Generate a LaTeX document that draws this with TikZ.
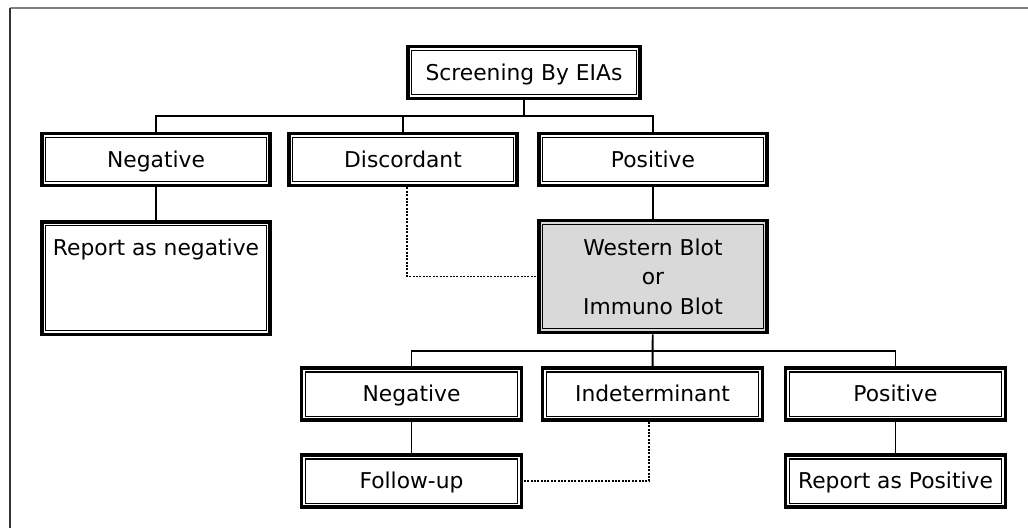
\documentclass[tikz,border=0pt]{standalone}
\usepackage{fontspec}
\setmainfont{DejaVu Sans}
\begin{document}
\begin{tikzpicture}[x=0.025cm, y=-0.025cm,
	box/.style={draw, line width=2.7pt, fill=white, align=center, inner sep=0pt,
		minimum width=5.7cm, minimum height=1.3cm, font=\fontsize{15.5}{21}\selectfont,
		path picture={\draw[line width=0.8pt] ([shift={(2.8pt,2.8pt)}]path picture bounding box.south west)
			rectangle ([shift={(-2.8pt,-2.8pt)}]path picture bounding box.north east);}},
	oneline/.style={text height=12.5pt, text depth=1.5pt},
	narrow/.style={minimum width=5.5cm},
	link/.style={line width=1.4pt},
	dotlink/.style={line width=1.4pt, densely dotted}]
	\useasboundingbox (0,0) rectangle (1028,528);
	% frame
	\draw[gray, line width=1.2pt] (10,8) -- (1028,8);
	\draw[black!80, line width=1.2pt] (10,8) -- (10,528);
	% screening level
	\node[box, oneline, minimum width=5.8cm] (scr) at (524,72.5) {Screening By EIAs};
	\node[box, oneline] (neg1) at (156,159.5) {Negative};
	\node[box, oneline] (disc) at (403,159.5) {Discordant};
	\node[box, oneline] (pos1) at (653,159.5) {Positive};
	\node[box, anchor=north, minimum height=0pt, inner ysep=13pt, text height=11pt, text depth=43pt] (rep1) at (156,220) {Report as negative};
	\node[box, fill=black!15, minimum height=2.8cm] (wb) at (653,276.5) {Western Blot\\or\\Immuno Blot};
	% confirmation level
	\node[box, oneline, narrow] (neg2) at (411.5,394) {Negative};
	\node[box, oneline, narrow] (ind) at (652.5,394) {Indeterminant};
	\node[box, oneline, narrow] (pos2) at (895.5,394) {Positive};
	\node[box, oneline, narrow] (fol) at (411.5,481) {Follow-up};
	\node[box, oneline, narrow] (rep2) at (895.5,481) {Report as Positive};
	% connectors
	\coordinate (bus1) at (0,116);
	\coordinate (bus2) at (0,351);
	\draw[link] (neg1.north) |- (pos1.north |- bus1) -- (pos1.north);
	\draw[link] (scr.south) -- (scr.south |- bus1);
	\draw[link] (disc.north) -- (disc.north |- bus1);
	\draw[link] (neg1) -- (rep1);
	\draw[link] (pos1) -- (wb);
	\draw[dotlink] ([xshift=3pt]disc.south) |- (wb.west);
	\draw[link] (neg2.north) |- (pos2.north |- bus2) -- (pos2.north);
	\draw[link] (wb) -- (ind);
	\draw[link] (neg2) -- (fol);
	\draw[link] (pos2) -- (rep2);
	\draw[dotlink] ([xshift=-2.5pt]ind.south) |- (fol.east);
\end{tikzpicture}
\end{document}
